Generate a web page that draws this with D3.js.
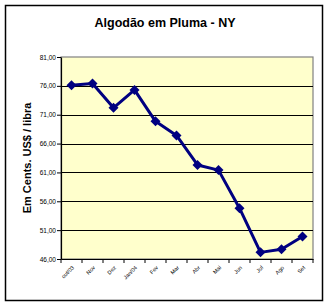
<!DOCTYPE html>
<html><head><meta charset="utf-8">
<script src="https://cdn.jsdelivr.net/npm/d3@7"></script>
<style>body{margin:0;background:#fff;}svg{display:block;}</style>
</head><body>
<svg id="c" width="329" height="306"></svg>
<script>
const categories = ["out/03","Nov","Dez","Jan/04","Fev","Mar","Abr","Mai","Jun","Jul","Ago","Set"];
const values = [76.1, 76.4, 72.2, 75.3, 69.85, 67.4, 62.3, 61.4, 54.8, 47.15, 47.7, 49.9];
const yTicks = [46, 51, 56, 61, 66, 71, 76, 81];
const title = "Algodão em Pluma - NY";
const yTitle = "Em Cents. US$ / libra";

const svg = d3.select("#c");
const L = 61, R = 313, T = 57, B = 259;
svg.append("rect").attr("x",5.5).attr("y",5.5).attr("width",317).attr("height",295)
  .attr("fill","#fff").attr("stroke","#000").attr("stroke-width",1.5);

const x = d3.scaleBand().domain(categories).range([L,R]).padding(0);
const y = d3.scaleLinear().domain([46,81]).range([B,T]);

svg.append("rect").attr("x",L).attr("y",T).attr("width",R-L).attr("height",B-T)
  .attr("fill","#FFFFCC").attr("stroke","#808080").attr("stroke-width",1.2);

svg.append("g").selectAll("line").data(yTicks.slice(1,-1)).join("line")
  .attr("x1",L).attr("x2",R).attr("y1",d=>Math.round(y(d))+0.5).attr("y2",d=>Math.round(y(d))+0.5)
  .attr("stroke","#000").attr("stroke-width",1);

const yAxis = d3.axisLeft(y).tickValues(yTicks).tickSize(4).tickSizeOuter(0)
  .tickFormat(d=>d3.format(".2f")(d).replace(".",","));
const gy = svg.append("g").attr("transform",`translate(${L},0)`).call(yAxis);
gy.select(".domain").attr("stroke","#000").attr("stroke-width",1.2);
gy.selectAll("text").attr("font-family","Arial, 'Liberation Sans', sans-serif").attr("font-size",6.5).attr("fill","#000").attr("x",-5);

const xAxis = d3.axisBottom(x).tickSize(0).tickSizeOuter(0);
const gx = svg.append("g").attr("transform",`translate(0,${B})`).call(xAxis);
gx.select(".domain").attr("stroke","#000").attr("stroke-width",1.2);
gx.selectAll(".tick text").attr("font-family","Arial, 'Liberation Sans', sans-serif").attr("font-size",5.5)
  .attr("fill","#000").attr("text-anchor","end").attr("dy",0).attr("y",0)
  .attr("transform","translate(3,9) rotate(-45)");
// ticks between categories
svg.append("g").selectAll("line").data(d3.range(categories.length+1)).join("line")
  .attr("x1",i=>L+i*x.step()).attr("x2",i=>L+i*x.step()).attr("y1",B).attr("y2",B+4)
  .attr("stroke","#000").attr("stroke-width",1);

const cx = d=>x(d)+x.bandwidth()/2;
const line = d3.line().x((d,i)=>cx(categories[i])).y(d=>y(d));
svg.append("path").datum(values).attr("d",line).attr("fill","none")
  .attr("stroke","#000080").attr("stroke-width",3).attr("stroke-linejoin","round");
svg.append("g").selectAll("path").data(values).join("path")
  .attr("d",d3.symbol(d3.symbolDiamond2? d3.symbolSquare : d3.symbolSquare,50))
  .attr("transform",(d,i)=>`translate(${cx(categories[i])},${y(d)}) rotate(45)`)
  .attr("fill","#000080");

svg.append("text").attr("x",165).attr("y",27).attr("text-anchor","middle")
  .attr("font-family","Arial, 'Liberation Sans', sans-serif").attr("font-weight","bold").attr("font-size",12.5)
  .text(title);
svg.append("text").attr("transform","translate(31,158) rotate(-90)").attr("text-anchor","middle")
  .attr("font-family","Arial, 'Liberation Sans', sans-serif").attr("font-weight","bold").attr("font-size",11)
  .text(yTitle);
</script>
</body></html>
